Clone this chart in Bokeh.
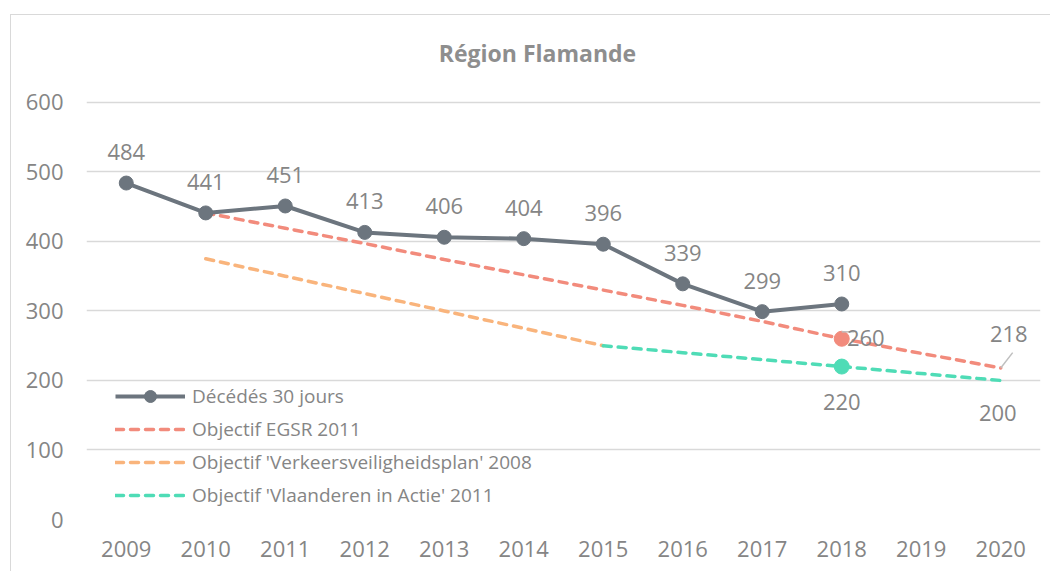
from bokeh.plotting import figure
from bokeh.models import Range1d, FixedTicker, Legend, LegendItem, Label
from bokeh.core.properties import value
from bokeh.embed import file_html
from bokeh.resources import INLINE

# ---- data ----
years = [2009, 2010, 2011, 2012, 2013, 2014, 2015, 2016, 2017, 2018, 2019, 2020]
deces_years = [2009, 2010, 2011, 2012, 2013, 2014, 2015, 2016, 2017, 2018]
deces = [484, 441, 451, 413, 406, 404, 396, 339, 299, 310]
egsr_years = [2010, 2011, 2012, 2013, 2014, 2015, 2016, 2017, 2018, 2019, 2020]
egsr = [441, 419, 397, 374, 352, 330, 308, 285, 260, 239, 218]
vvp_years = [2010, 2011, 2012, 2013, 2014, 2015]
vvp = [375, 350, 325, 300, 275, 250]
via_years = [2015, 2016, 2017, 2018, 2019, 2020]
via = [250, 240, 230, 220, 210, 200]
y_ticks = [0, 100, 200, 300, 400, 500, 600]

title = "Région Flamande"
names = ["Décédés 30 jours", "Objectif EGSR 2011",
         "Objectif 'Verkeersveiligheidsplan' 2008", "Objectif 'Vlaanderen in Actie' 2011"]

GRAY = "#6c757e"
RED = "#f28b7c"
ORANGE = "#f9b47c"
GREEN = "#4fdcb6"
TXT = "#858585"
FONT = "Open Sans"

# frame spans the full height; the y range top leaves room for the title
p = figure(width=1040, height=557, output_backend="svg", toolbar_location=None,
           x_range=Range1d(2008.5, 2020.5), y_range=Range1d(0, 725),
           min_border_left=75, min_border_right=11, min_border_top=0, min_border_bottom=53)
p.styles = {"margin-left": "10px", "margin-top": "14px",
            "border-left": "1px solid #d9d9d9", "border-top": "1px solid #d9d9d9"}
p.outline_line_color = None

p.add_layout(Label(x=451, y=467, x_units="screen", y_units="screen", text=title,
                   text_font=FONT, text_font_size="23px", text_font_style="bold",
                   text_color="#8e8e8e", text_align="center", text_baseline="middle"))

p.xgrid.grid_line_color = None
p.ygrid.grid_line_color = "#d9d9d9"
p.ygrid.grid_line_width = 1.5

p.xaxis.ticker = FixedTicker(ticks=years)
p.yaxis.ticker = FixedTicker(ticks=y_ticks)
for ax in (p.xaxis, p.yaxis):
    ax.axis_line_color = None
    ax.major_tick_line_color = None
    ax.minor_tick_line_color = None
    ax.major_label_text_font = FONT
    ax.major_label_text_font_size = "22px"
    ax.major_label_text_color = TXT
p.yaxis.major_label_standoff = 17
p.xaxis.major_label_standoff = 15

# series
r_vvp = p.line(vvp_years, vvp, line_color=ORANGE, line_width=3.5, line_dash="8 7", line_cap="round")
r_via = p.line(via_years, via, line_color=GREEN, line_width=3.5, line_dash="8 7", line_cap="round")
r_egsr = p.line(egsr_years, egsr, line_color=RED, line_width=3.5, line_dash="8 7", line_cap="round")
r_dl = p.line(deces_years, deces, line_color=GRAY, line_width=4)
r_dm = p.scatter(deces_years, deces, size=14, fill_color=GRAY, line_color=GRAY)

# target markers at 2018
i_e = egsr_years.index(2018)
i_v = via_years.index(2018)
p.scatter([egsr_years[i_e]], [egsr[i_e]], size=15, fill_color=RED, line_color=RED)
p.scatter([via_years[i_v]], [via[i_v]], size=15, fill_color=GREEN, line_color=GREEN)

# leader lines
p.segment(x0=[egsr_years[-1]], y0=[egsr[-1]], x1=[egsr_years[-1] + 0.15], y1=[egsr[-1] + 22],
          line_color="#bfbfbf", line_width=1.5)
p.segment(x0=[egsr_years[i_e]], y0=[egsr[i_e] + 10], x1=[egsr_years[i_e] + 0.16], y1=[egsr[i_e] + 10],
          line_color="#bfbfbf", line_width=1.5)

# data labels
lbl = dict(text_font=value(FONT), text_font_size="22px", text_color=TXT,
           text_align="center", text_baseline="middle")
p.text(deces_years, deces, text=[str(v) for v in deces], y_offset=-31, **lbl)
p.text([egsr_years[i_e]], [egsr[i_e]], text=[str(egsr[i_e])], x_offset=24, y_offset=-1, **lbl)
p.text([egsr_years[-1]], [egsr[-1]], text=[str(egsr[-1])], x_offset=8, y_offset=-34, **lbl)
p.text([via_years[i_v]], [via[i_v]], text=[str(via[i_v])], y_offset=35, **lbl)
p.text([via_years[-1]], [via[-1]], text=[str(via[-1])], x_offset=-3, y_offset=33, **lbl)

legend = Legend(items=[
    LegendItem(label=names[0], renderers=[r_dl, r_dm]),
    LegendItem(label=names[1], renderers=[r_egsr]),
    LegendItem(label=names[2], renderers=[r_vvp]),
    LegendItem(label=names[3], renderers=[r_via]),
], location=(29, 9))
legend.background_fill_alpha = 0
legend.border_line_color = None
legend.padding = 0
legend.margin = 0
legend.spacing = 3
legend.glyph_width = 70
legend.glyph_height = 30
legend.label_height = 20
legend.label_standoff = 7
legend.label_text_font = FONT
legend.label_text_font_size = "19px"
legend.label_text_color = TXT
p.add_layout(legend, "center")

open("out.html", "w").write(file_html(p, INLINE))
